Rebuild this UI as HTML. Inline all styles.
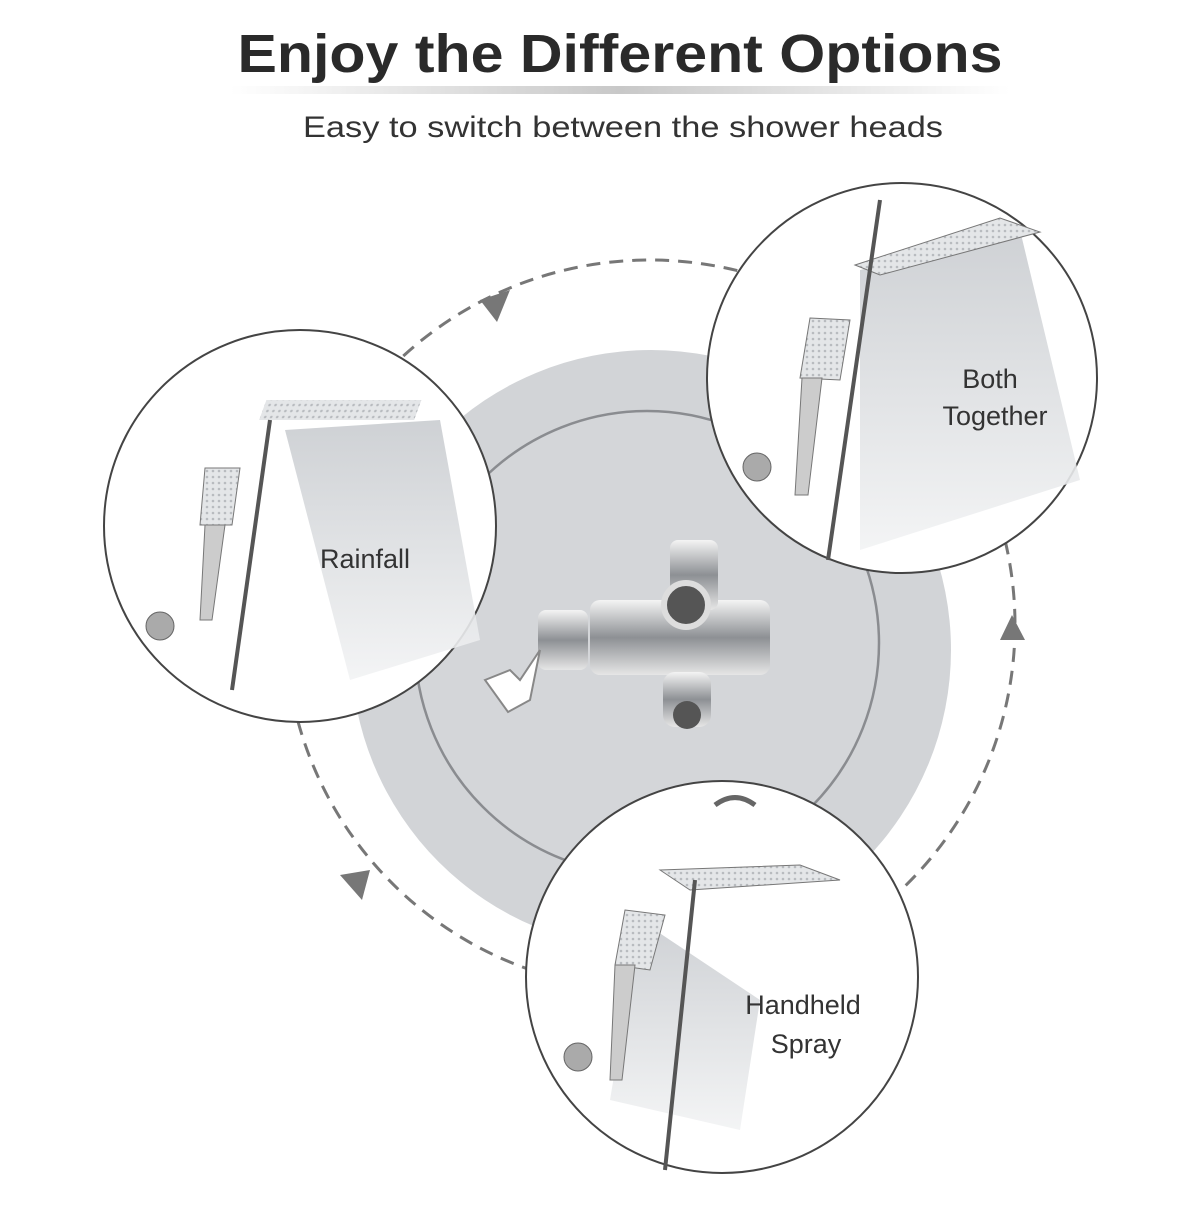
<!DOCTYPE html>
<html><head><meta charset="utf-8"><style>
body{margin:0;width:1200px;height:1200px;background:#fff;overflow:hidden;font-family:"Liberation Sans",sans-serif;}
</style></head><body>
<svg width="1200" height="1200" viewBox="0 0 1200 1200" xmlns="http://www.w3.org/2000/svg">
<defs>
<linearGradient id="bar" x1="0" x2="1"><stop offset="0" stop-color="#fff"/><stop offset="0.5" stop-color="#c8c8c8"/><stop offset="1" stop-color="#fff"/></linearGradient>
<linearGradient id="spray" x1="0" y1="0" x2="0" y2="1"><stop offset="0" stop-color="#c9ccd0"/><stop offset="1" stop-color="#f2f3f4"/></linearGradient>
<linearGradient id="chrome" x1="0" y1="0" x2="0" y2="1"><stop offset="0" stop-color="#f4f4f4"/><stop offset="0.5" stop-color="#8d9094"/><stop offset="1" stop-color="#e6e6e6"/></linearGradient>
<pattern id="dots" width="6" height="6" patternUnits="userSpaceOnUse"><rect width="6" height="6" fill="#e4e6e8"/><circle cx="3" cy="3" r="1.3" fill="#b8bbbf"/></pattern>
</defs>
<text x="620" y="72" text-anchor="middle" font-size="54" font-weight="bold" fill="#2a2a2a" textLength="765" lengthAdjust="spacingAndGlyphs">Enjoy the Different Options</text>
<rect x="230" y="86" width="780" height="8" fill="url(#bar)"/>
<text x="623" y="137" text-anchor="middle" font-size="30" fill="#333" textLength="640" lengthAdjust="spacingAndGlyphs">Easy to switch between the shower heads</text>

<circle cx="651" cy="650" r="300" fill="#d2d4d7"/>
<circle cx="647" cy="643" r="232" fill="#d4d6d9" stroke="#8a8c90" stroke-width="2.5"/>
<circle cx="650" cy="625" r="365" fill="none" stroke="#777" stroke-width="3" stroke-dasharray="14 9"/>
<polygon points="480,300 510,290 497,322" fill="#777"/>
<polygon points="1000,640 1025,640 1012,615" fill="#777"/>
<polygon points="340,875 370,870 362,900" fill="#777"/>

<g>
<rect x="590" y="600" width="180" height="75" rx="10" fill="url(#chrome)"/>
<rect x="538" y="610" width="50" height="60" rx="8" fill="url(#chrome)"/>
<rect x="670" y="540" width="48" height="70" rx="8" fill="url(#chrome)"/>
<circle cx="686" cy="605" r="22" fill="#555" stroke="#ddd" stroke-width="6"/>
<rect x="663" y="672" width="48" height="55" rx="12" fill="url(#chrome)"/>
<circle cx="687" cy="715" r="14" fill="#555"/>
<polygon points="485,680 510,670 520,680 540,650 530,700 508,712" fill="#fff" stroke="#888" stroke-width="2"/>
</g>

<g stroke="#444" stroke-width="2" fill="#fff">
<circle cx="300" cy="526" r="196"/>
<circle cx="902" cy="378" r="195"/>
<circle cx="722" cy="977" r="196"/>
</g>

<g>
<polygon points="285,430 440,420 480,640 350,680" fill="url(#spray)" opacity="0.9"/>
<rect x="262" y="400" width="155" height="20" fill="url(#dots)" transform="skewX(-20) translate(150,0)"/>
<line x1="270" y1="420" x2="232" y2="690" stroke="#555" stroke-width="4"/>
<polygon points="205,468 240,468 232,525 200,525" fill="url(#dots)" stroke="#777"/>
<polygon points="205,525 225,525 212,620 200,620" fill="#ccc" stroke="#777"/>
<circle cx="160" cy="626" r="14" fill="#aaa" stroke="#666"/>
</g>
<g>
<polygon points="860,270 1020,230 1080,480 860,550" fill="url(#spray)" opacity="0.9"/>
<polygon points="855,265 1000,218 1040,232 880,275" fill="url(#dots)" stroke="#777"/>
<line x1="880" y1="200" x2="828" y2="560" stroke="#555" stroke-width="4"/>
<polygon points="810,318 850,320 840,380 800,378" fill="url(#dots)" stroke="#777"/>
<polygon points="802,378 822,378 808,495 795,495" fill="#ccc" stroke="#777"/>
<circle cx="757" cy="467" r="14" fill="#aaa" stroke="#666"/>
</g>
<g>
<polygon points="660,870 800,865 840,880 690,890" fill="url(#dots)" stroke="#777"/>
<polygon points="640,920 760,1000 740,1130 610,1100" fill="url(#spray)" opacity="0.9"/>
<line x1="695" y1="880" x2="665" y2="1170" stroke="#555" stroke-width="4"/>
<polygon points="625,910 665,915 650,970 615,965" fill="url(#dots)" stroke="#777"/>
<polygon points="615,965 635,965 622,1080 610,1080" fill="#ccc" stroke="#777"/>
<circle cx="578" cy="1057" r="14" fill="#aaa" stroke="#666"/>
<path d="M715,805 q20,-15 40,0" stroke="#666" stroke-width="5" fill="none"/>
</g>

<g font-size="27" fill="#333" text-anchor="middle">
<text x="365" y="568">Rainfall</text>
<text x="990" y="388">Both</text>
<text x="995" y="425">Together</text>
<text x="803" y="1014">Handheld</text>
<text x="806" y="1053">Spray</text>
</g>
</svg>
</body></html>
